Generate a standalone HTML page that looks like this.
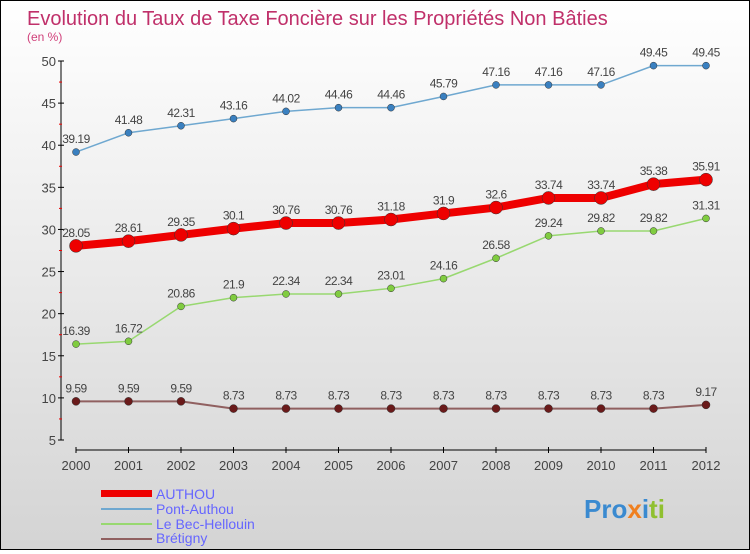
<!DOCTYPE html>
<html><head><meta charset="utf-8"><style>
body{margin:0;width:750px;height:550px;overflow:hidden;font-family:"Liberation Sans",sans-serif}
#wrap{position:relative;width:748px;height:548px;border:1px solid #000;background:linear-gradient(#ffffff,#d4d4d4)}
</style></head><body>
<div id="wrap">
<svg id="c" width="748" height="548" xmlns="http://www.w3.org/2000/svg">
<text x="26" y="24" font-size="20" fill="#c0306a">Evolution du Taux de Taxe Foncière sur les Propriétés Non Bâties</text>
<text x="26" y="40" font-size="12" fill="#d0407a">(en %)</text>
<g id="axes"></g><g id="series"></g>
<g>
<rect x="100" y="489" width="51" height="7" fill="#ee0000"/>
<text x="155" y="498" font-size="14" fill="#6666ff">AUTHOU</text>
<rect x="100" y="507" width="51" height="2" fill="#6fa8d0"/>
<text x="155" y="513" font-size="14" fill="#6666ff">Pont-Authou</text>
<rect x="100" y="522" width="51" height="2" fill="#98d870"/>
<text x="155" y="528" font-size="14" fill="#6666ff">Le Bec-Hellouin</text>
<rect x="100" y="537" width="51" height="2" fill="#906060"/>
<text x="155" y="542" font-size="14" fill="#6666ff">Brétigny</text>
</g>
<text x="583" y="517" font-size="26" font-weight="bold"><tspan fill="#3a8ad0">Pro</tspan><tspan fill="#f08020">x</tspan><tspan fill="#3a8ad0">i</tspan><tspan fill="#90c030">ti</tspan></text>
</svg></div>
<script>
const years=[2000,2001,2002,2003,2004,2005,2006,2007,2008,2009,2010,2011,2012];
const yTicks=[5,10,15,20,25,30,35,40,45,50];
const authou=[28.05,28.61,29.35,30.1,30.76,30.76,31.18,31.9,32.6,33.74,33.74,35.38,35.91];
const pontAuthou=[39.19,41.48,42.31,43.16,44.02,44.46,44.46,45.79,47.16,47.16,47.16,49.45,49.45];
const becHellouin=[16.39,16.72,20.86,21.9,22.34,22.34,23.01,24.16,26.58,29.24,29.82,29.82,31.31];
const bretigny=[9.59,9.59,9.59,8.73,8.73,8.73,8.73,8.73,8.73,8.73,8.73,8.73,9.17];
const NS="http://www.w3.org/2000/svg";
const X=i=>75+i*52.5, Y=v=>439-(v-5)*(379/45);
function mk(t,a,p){const e=document.createElementNS(NS,t);for(const k in a)e.setAttribute(k,a[k]);p.appendChild(e);return e;}
const ax=document.getElementById('axes');
let l=mk('line',{x1:60,y1:Y(50),x2:60,y2:Y(5),stroke:'#000'},ax);


l=mk('line',{x1:X(0),y1:449,x2:X(12),y2:449,stroke:'#000'},ax);


yTicks.forEach(v=>{
 mk('line',{x1:57,y1:Y(v),x2:63,y2:Y(v),stroke:'#000'},ax);
 if(v<50) mk('line',{x1:58,y1:Y(v+2.5),x2:61,y2:Y(v+2.5),stroke:'#e00'},ax);
 const t=mk('text',{x:55,y:Y(v)+5,'font-size':13,fill:'#444','text-anchor':'end'},ax);t.textContent=v;
 
 
});
years.forEach((y,i)=>{
 mk('line',{x1:X(i),y1:446,x2:X(i),y2:452,stroke:'#000'},ax);
 const t=mk('text',{x:X(i),y:469,'font-size':13,fill:'#444','text-anchor':'middle'},ax);t.textContent=y;
 
 
});
const sg=document.getElementById('series');
function series(vals,name,color,dot,w,r){
 const g=mk('g',{},sg);
 
 
 const p=mk('polyline',{points:vals.map((v,i)=>X(i)+','+Y(v)).join(' '),fill:'none',stroke:color,'stroke-width':w,'stroke-linejoin':'round'},g);
 
 
 vals.forEach((v,i)=>{
  const c=mk('circle',{cx:X(i),cy:Y(v),r:r,fill:dot,stroke:'#333','stroke-width':0.5},g);
  
  
  const t=mk('text',{x:X(i),y:Y(v)-9,'font-size':12,fill:'#444','text-anchor':'middle','letter-spacing':'-0.5'},g);
  t.textContent=v;
  
  
 });
}
series(bretigny,'bretigny','#906060','#6a1a1a',2,4);
series(becHellouin,'le-bec-hellouin','#98d870','#80cc40',1.5,3.5);
series(pontAuthou,'pont-authou','#6fa8d0','#3a80c0',1.5,3.5);
series(authou,'authou','#ee0000','#ee0000',8,6.5);
</script>
</body></html>
